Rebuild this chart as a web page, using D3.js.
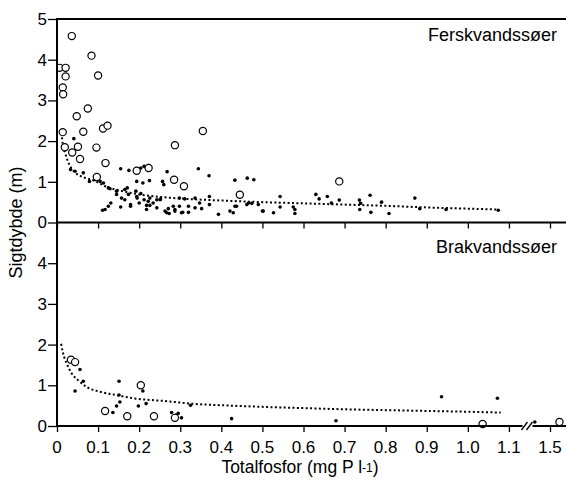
<!DOCTYPE html>
<html><head><meta charset="utf-8">
<script src="https://cdn.jsdelivr.net/npm/d3@7"></script>
<style>body{margin:0;background:#fff}svg{display:block;font-family:"Liberation Sans",Arial,sans-serif}</style>
</head><body><svg id="c" width="566" height="481"></svg>
<script>
// ---- data ----
const xTicks = [0,0.1,0.2,0.3,0.4,0.5,0.6,0.7,0.8,0.9,1.0,1.1,1.5];
const xTickLabels = ["0","0.1","0.2","0.3","0.4","0.5","0.6","0.7","0.8","0.9","1.0","1.1","1.5"];
const yTicksTop = [0,1,2,3,4,5];
const yTicksBot = [0,1,2,3,4];
const panelTitles = ["Ferskvandssøer","Brakvandssøer"];

// Ferskvandssøer: open circles [TP, depth]
const freshCircles = [[0.036,4.58],[0.006,3.80],[0.021,3.80],[0.021,3.59],[0.014,3.32],[0.015,3.15],[0.084,4.10],[0.100,3.61],[0.075,2.80],[0.048,2.61],[0.064,2.23],[0.014,2.22],[0.019,1.85],[0.037,1.72],[0.051,1.86],[0.056,1.56],[0.096,1.84],[0.112,2.31],[0.123,2.38],[0.118,1.46],[0.097,1.12],[0.194,1.27],[0.223,1.34],[0.287,1.90],[0.285,1.05],[0.309,0.89],[0.355,2.25],[0.445,0.68],[0.687,1.01]];
// Ferskvandssøer: filled dots
const freshDots = [[0.041,2.06],[0.033,1.30],[0.044,1.26],[0.064,1.22],[0.079,1.01],[0.092,1.05],[0.105,1.01],[0.113,0.97],[0.125,0.85],[0.129,0.83],[0.155,1.32],[0.175,1.28],[0.194,1.01],[0.204,1.34],[0.212,1.38],[0.145,0.77],[0.157,0.60],[0.165,0.81],[0.174,0.69],[0.179,0.44],[0.155,0.38],[0.131,0.48],[0.125,0.40],[0.117,0.32],[0.111,0.30],[0.192,0.77],[0.195,0.60],[0.204,0.71],[0.212,0.56],[0.218,0.42],[0.226,0.60],[0.171,0.85],[0.268,1.25],[0.257,1.01],[0.225,1.03],[0.260,0.93],[0.209,0.97],[0.344,1.32],[0.370,1.15],[0.433,1.04],[0.463,1.09],[0.479,1.05],[0.543,0.64],[0.543,0.38],[0.527,0.24],[0.502,0.28],[0.466,0.48],[0.433,0.40],[0.429,0.24],[0.421,0.28],[0.393,0.20],[0.371,0.44],[0.371,0.64],[0.352,0.34],[0.336,0.36],[0.320,0.40],[0.311,0.58],[0.303,0.24],[0.287,0.32],[0.298,0.40],[0.267,0.24],[0.271,0.34],[0.251,0.56],[0.243,0.36],[0.234,0.48],[0.218,0.32],[0.226,0.42],[0.200,0.48],[0.194,0.64],[0.179,0.40],[0.165,0.56],[0.145,0.69],[0.263,0.28],[0.273,0.22],[0.287,0.28],[0.306,0.25],[0.320,0.25],[0.347,0.48],[0.437,0.40],[0.462,0.44],[0.474,0.47],[0.490,0.44],[0.500,0.28],[0.222,0.52],[0.243,0.56],[0.252,0.58],[0.298,0.60],[0.336,0.60],[0.283,0.40],[0.579,0.32],[0.579,0.22],[0.575,0.38],[0.630,0.69],[0.638,0.58],[0.658,0.64],[0.668,0.48],[0.687,0.55],[0.736,0.55],[0.739,0.47],[0.737,0.32],[0.762,0.67],[0.764,0.25],[0.790,0.50],[0.808,0.22],[0.871,0.60],[0.883,0.34],[0.947,0.32],[1.074,0.30]];
// Ferskvandssøer: dotted trend line
const freshTrend = [[0.011,2.20],[0.014,1.93],[0.020,1.70],[0.030,1.42],[0.045,1.22],[0.060,1.13],[0.090,1.03],[0.120,0.88],[0.160,0.77],[0.200,0.69],[0.250,0.63],[0.300,0.59],[0.400,0.54],[0.500,0.50],[0.600,0.47],[0.700,0.44],[0.800,0.41],[0.900,0.37],[1.000,0.34],[1.070,0.32]];

// Brakvandssøer
const brackCircles = [[0.034,1.63],[0.044,1.57],[0.117,0.37],[0.171,0.24],[0.204,1.00],[0.236,0.24],[0.287,0.20],[1.036,0.05],[1.523,0.10],[1.57,0.10]];
const brackDots = [[0.056,1.39],[0.044,0.86],[0.064,1.10],[0.151,1.10],[0.153,0.59],[0.145,0.49],[0.136,0.33],[0.209,0.86],[0.198,0.49],[0.217,0.55],[0.279,0.33],[0.290,0.27],[0.295,0.31],[0.303,0.20],[0.325,0.51],[0.151,0.76],[0.425,0.18],[0.679,0.13],[0.936,0.72],[1.072,0.68],[1.463,0.10]];
const brackTrend = [[0.010,2.02],[0.015,1.78],[0.024,1.53],[0.036,1.29],[0.052,1.12],[0.072,0.96],[0.105,0.84],[0.145,0.76],[0.186,0.68],[0.226,0.64],[0.267,0.61],[0.324,0.55],[0.400,0.51],[0.500,0.47],[0.600,0.44],[0.700,0.41],[0.800,0.39],[0.900,0.37],[1.000,0.35],[1.080,0.33]];

// ---- drawing ----
const svg = d3.select("#c");
const W = 566, left = 57;
const FONT = "Liberation Sans, Arial, sans-serif";
// broken x axis: 1.125..1.425 collapsed
const x = d3.scaleLinear().domain([0,1.125,1.425,1.6]).range([57,519.2,519.2,591.1]);
const yTop = d3.scaleLinear().domain([0,5]).range([222.5,19]);
const yBot = d3.scaleLinear().domain([0,5]).range([426,222.5]);

const clip = svg.append("defs").append("clipPath").attr("id","pc");
clip.append("rect").attr("x",57).attr("y",15).attr("width",W-57).attr("height",415);

function panel(y, circles, dots, trend) {
  const g = svg.append("g").attr("clip-path","url(#pc)");
  g.append("path").datum(trend)
    .attr("d", d3.line().curve(d3.curveMonotoneX).x(d=>x(d[0])).y(d=>y(d[1])))
    .attr("fill","none").attr("stroke","#000").attr("stroke-width",2).attr("stroke-dasharray","2,2.4");
  g.selectAll(null).data(dots).join("circle")
    .attr("cx",d=>x(d[0])).attr("cy",d=>y(d[1])).attr("r",1.8).attr("fill","#000");
  g.selectAll(null).data(circles).join("circle")
    .attr("cx",d=>x(d[0])).attr("cy",d=>y(d[1])).attr("r",3.6)
    .attr("fill","#fff").attr("stroke","#000").attr("stroke-width",1.2);
}
panel(yTop, freshCircles, freshDots, freshTrend);
panel(yBot, brackCircles, brackDots, brackTrend);

// axes lines
const ax = svg.append("g").attr("stroke","#000").attr("stroke-width",2).attr("fill","none");
ax.append("line").attr("x1",left).attr("x2",W).attr("y1",yTop(5)).attr("y2",yTop(5));
ax.append("line").attr("x1",left).attr("x2",W).attr("y1",yTop(0)).attr("y2",yTop(0));
ax.append("line").attr("x1",left).attr("x2",W).attr("y1",yBot(0)).attr("y2",yBot(0));
ax.append("line").attr("x1",left).attr("x2",left).attr("y1",yTop(5)-1).attr("y2",yBot(0)+1);

// y ticks
function yAxis(y, ticks) {
  const g = svg.append("g").attr("transform",`translate(${left},0)`)
    .call(d3.axisLeft(y).tickValues(ticks).tickFormat(d3.format("d")).tickSize(9).tickPadding(1));
  g.select(".domain").remove();
  g.selectAll(".tick line").attr("stroke","#000").attr("stroke-width",1.3);
  g.selectAll(".tick text").attr("font-size",17).attr("font-family",FONT).attr("fill","#000");
}
yAxis(yTop, yTicksTop);
yAxis(yBot, yTicksBot);

// x ticks on shared middle line and bottom axis
const gm = svg.append("g").attr("transform",`translate(0,${yTop(0)})`)
  .call(d3.axisBottom(x).tickValues(xTicks).tickFormat("").tickSize(6));
gm.select(".domain").remove();
gm.selectAll(".tick line").attr("stroke","#000").attr("stroke-width",1.3);

const gb = svg.append("g").attr("transform",`translate(0,${yBot(0)})`)
  .call(d3.axisBottom(x).tickValues(xTicks).tickFormat("").tickSize(6));
gb.select(".domain").remove();
gb.selectAll(".tick line").attr("stroke","#000").attr("stroke-width",1.3);
svg.append("g").selectAll("text").data(xTicks).join("text")
  .attr("x",d=>x(d)).attr("y",yBot(0)+27).attr("text-anchor","middle")
  .attr("font-size",17).attr("font-family",FONT).attr("fill","#000")
  .text((d,i)=>xTickLabels[i]);

// axis break marks
const bx = (x(1.1)+x(1.5))/2 - 5;
svg.append("rect").attr("x",bx-2).attr("y",yBot(0)-3).attr("width",10).attr("height",6).attr("fill","#fff");
[0,5].forEach(o=>{
  svg.append("line").attr("x1",bx+o-3).attr("y1",yBot(0)+4).attr("x2",bx+o+3).attr("y2",yBot(0)-4)
    .attr("stroke","#000").attr("stroke-width",1.3);
});

// panel titles
svg.append("text").attr("x",557).attr("y",yTop(5)+22).attr("text-anchor","end")
  .attr("font-size",18).attr("fill","#000").text(panelTitles[0]);
svg.append("text").attr("x",557).attr("y",yBot(5)+30).attr("text-anchor","end")
  .attr("font-size",18).attr("fill","#000").text(panelTitles[1]);

// axis labels
svg.append("text").attr("transform",`translate(22,${yTop(0)}) rotate(-90)`).attr("text-anchor","middle")
  .attr("font-size",18).attr("fill","#000").text("Sigtdybde (m)");
const xl = svg.append("text").attr("x",300).attr("y",473).attr("text-anchor","middle")
  .attr("font-size",17.5).attr("fill","#000");
xl.append("tspan").text("Totalfosfor (mg P l");
xl.append("tspan").attr("font-size",12).attr("dy",-1).text("-1");
xl.append("tspan").attr("dy",1).text(")");
</script></body></html>
